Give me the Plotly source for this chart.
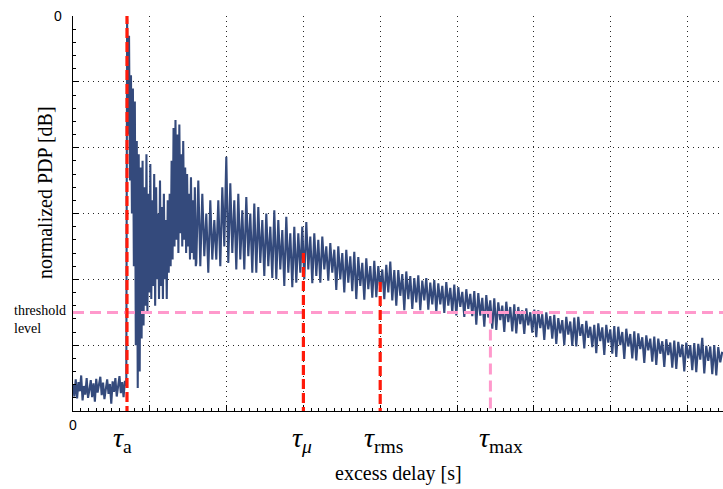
import numpy as np
import plotly.graph_objects as go

# ---------------- data (dB vs. excess delay in grid units) -------------
floor_db = [-56.0, -57.8, -55.2, -58.1, -55.6, -57.0, -54.6, -58.4, -56.2, -57.5,
            -55.0, -58.0, -56.8, -55.3, -57.9, -55.8, -58.6, -55.1, -57.2, -56.0,
            -54.8, -57.6, -55.7, -58.2, -56.4, -55.2, -57.4, -55.9, -58.9, -55.5,
            -57.1, -55.0, -57.8, -56.1, -54.7, -57.3, -55.6, -57.9, -55.4, -56.2]
floor_span = (0.0, 0.694)

early_db = [-0.5, -18, -3, -25, -9, -30, -11, -38, -13, -50,
            -19, -56.5, -21, -54, -23, -49, -22, -47, -26, -44,
            -21, -45, -27, -42, -22.5, -43, -28, -41, -24, -44,
            -26, -40, -30, -43, -25, -41, -29, -43, -27, -40,
            -31, -43, -28, -39, -27, -38, -22, -37, -17, -35,
            -15.8, -34, -18, -36, -16.5, -33, -21, -35, -19, -34,
            -23, -36, -24, -35, -27, -37, -24.5, -36, -28, -37,
            -26, -38]
early_span = (0.7044, 1.599)

body_db = [-37.5, -25, -38, -27, -36.5, -30, -39, -28, -37, -31,
           -37, -28, -38, -26, -35, -21.4, -37.5, -25.4, -36, -28,
           -38.5, -27, -37, -29.5, -38.5, -27.5, -36.5, -30, -39, -28.5,
           -39, -29, -37.5, -31, -39.5, -30, -38, -32, -39.8, -29.5,
           -40, -31, -38.5, -32.5, -41, -30.5, -39, -33, -41.2, -32,
           -40.5, -33, -39, -32, -40, -31.3, -38.5, -33.5, -40.6, -33,
           -39.5, -34, -40.5, -33.5, -38.5, -35, -40.2, -34.5, -39, -35.5,
           -41.6, -35, -40, -36, -42, -35.5, -40.5, -36.5, -41.8, -35.8,
           -43, -36.6, -41, -37.5, -43.1, -36.8, -41.5, -38, -42.8, -37.2,
           -42.7, -38, -41.5, -38.5, -43, -37.8, -42, -37.3, -43.2, -38.6,
           -44, -38.6, -42.5, -39.2, -44.7, -38.8, -43, -39.5, -44.5, -39.8,
           -43.5, -39.4, -44.7, -40.2, -43.2, -39.8, -44.6, -40.5, -43.8, -40.1,
           -45, -40.6, -43.8, -41, -45.1, -40.4, -44, -41.3, -45, -40.8,
           -45.5, -41.2, -44.2, -41.9, -45.7, -41.5, -44.5, -42.2, -45.6, -41.8,
           -46.9, -42.1, -45.5, -42.8, -47.2, -42.4, -45.8, -43.2, -47.5, -42.9,
           -47.7, -43.5, -46.2, -44, -48, -43.4, -46.5, -44.2, -47.9, -43.8,
           -48.2, -44.2, -46.8, -44.7, -48.3, -44.4, -47, -45, -48.1, -44.6,
           -48.8, -44.7, -47.4, -45.3, -49.2, -45, -47.6, -45.6, -49, -45.4,
           -49.8, -45.9, -48.2, -46.2, -50, -45.7, -48.4, -46.4, -50.1, -45.8,
           -50.2, -45.7, -48.6, -46.8, -50.5, -46.3, -48.9, -47.2, -50.3, -46.9,
           -51.2, -46.7, -49.4, -47.3, -51.5, -46.9, -49.6, -47.6, -51.3, -47.1,
           -51.8, -47.2, -50, -48, -52.1, -47.5, -50.2, -48.3, -52, -47.9,
           -52.3, -48.2, -50.6, -48.8, -52.7, -48.5, -50.8, -49, -52.5, -48.7,
           -53, -49, -51.3, -49.4, -53.3, -49.1, -51.5, -49.6, -53.4, -49.3,
           -53.6, -49.5, -51.8, -49.9, -54, -49.6, -52, -50, -53.8, -49.7,
           -54.1, -49.8, -52.2, -48.9, -54.3, -50.1, -52.4, -50.2, -54.4, -50,
           -54.6, -50.3, -52.6, -51]
body_span = (1.6055, 8.454)

tau_names = ["a", "μ", "rms", "max"]
tau_delay = [0.703, 3.0, 4.0, 5.435]
tau_top_db = [0.3, -36.0, -40.4, -45.05]
threshold_db = -45.05

x_range = [0, 8.4635]
y_range = [-60, 0]

# ---------------- build --------------------------------------------------------------------
segments = [(floor_db, floor_span), (early_db, early_span), (body_db, body_span)]
xs = np.concatenate([np.linspace(s[0], s[1], len(v)) for v, s in segments])
ys = np.concatenate([np.array(v, dtype=float) for v, s in segments])

SIG = "#344a7c"
RED = "#ff1a0a"
PINK = "#ff99cc"
SERIF = "Liberation Serif, Times New Roman, serif"
SANS = "Liberation Sans, Arial, sans-serif"

fig = go.Figure()
fig.add_trace(go.Scatter(x=xs, y=ys, mode="lines",
                         line=dict(color=SIG, width=2.1), hoverinfo="skip",
                         showlegend=False))

shapes = []
shapes.append(dict(type="line", xref="x", yref="y", x0=x_range[0], x1=x_range[1],
                   y0=threshold_db, y1=threshold_db, layer="above",
                   line=dict(color=PINK, width=3, dash="11px,6px")))
for name, d, top in zip(tau_names, tau_delay, tau_top_db):
    col = PINK if name == "max" else RED
    w = 3 if name == "max" else 3.2
    dash = "11px,6px" if name == "max" else "10px,4px"
    shapes.append(dict(type="line", xref="x", yref="y", x0=d, x1=d, y0=top, y1=y_range[0],
                       layer="above", line=dict(color=col, width=w, dash=dash)))

label_shift = {"a": -4, "μ": -1, "rms": 3, "max": 11}
annotations = []
for name, d in zip(tau_names, tau_delay):
    sub = "<i>%s</i>" % name if name == "μ" else name
    annotations.append(dict(x=d, xref="x", y=-0.0734, yref="paper",
                            text="<i>τ</i><sub>%s</sub>" % sub, showarrow=False,
                            xanchor="center", yanchor="middle",
                            xshift=label_shift[name],
                            font=dict(family=SERIF, size=28, color="black")))

annotations += [
    dict(x=0.5, xref="paper", y=-0.159, yref="paper", text="excess delay [s]",
         showarrow=False, xanchor="center", yanchor="middle",
         font=dict(family=SERIF, size=20, color="black")),
    dict(x=-0.043, xref="paper", y=0.552, yref="paper", text="normalized PDP [dB]",
         textangle=-90, showarrow=False, xanchor="center", yanchor="middle",
         font=dict(family=SERIF, size=20, color="black")),
    dict(x=-0.094, xref="paper", y=threshold_db - 1.0, yref="y", text="threshold<br>level",
         showarrow=False, xanchor="left", yanchor="middle", align="left",
         font=dict(family=SERIF, size=14, color="black")),
    dict(x=x_range[0], xref="x", y=-0.035, yref="paper", text="0", showarrow=False,
         xanchor="center", yanchor="middle",
         font=dict(family=SANS, size=14, color="black")),
    dict(x=-0.014, xref="paper", y=y_range[1], yref="y", text="0", showarrow=False,
         xanchor="right", yanchor="middle",
         font=dict(family=SANS, size=14, color="black")),
]

fig.update_layout(
    width=723, height=489,
    margin=dict(l=73, r=0, t=16, b=78),
    paper_bgcolor="white", plot_bgcolor="white",
    shapes=shapes, annotations=annotations,
    showlegend=False,
)
grid_dash = "1px,4px"
fig.update_xaxes(range=x_range, dtick=1, tick0=0, showticklabels=False,
                 ticks="inside", ticklen=6, tickcolor="black", tickwidth=1,
                 showline=True, linecolor="black", linewidth=1.2,
                 showgrid=True, gridcolor="rgba(0,0,0,0.85)", gridwidth=1, griddash=grid_dash,
                 zeroline=False,
                 minor=dict(ticks="inside", ticklen=3, dtick=0.1, tick0=0,
                            tickcolor="black", showgrid=False))
fig.update_yaxes(range=y_range, dtick=10, tick0=0, showticklabels=False,
                 ticks="inside", ticklen=6, tickcolor="black", tickwidth=1,
                 showline=True, linecolor="black", linewidth=1.2,
                 showgrid=True, gridcolor="rgba(0,0,0,0.85)", gridwidth=1, griddash=grid_dash,
                 zeroline=False,
                 minor=dict(ticks="inside", ticklen=3, dtick=2, tick0=0,
                            tickcolor="black", showgrid=False))

fig.write_html("out.html")
